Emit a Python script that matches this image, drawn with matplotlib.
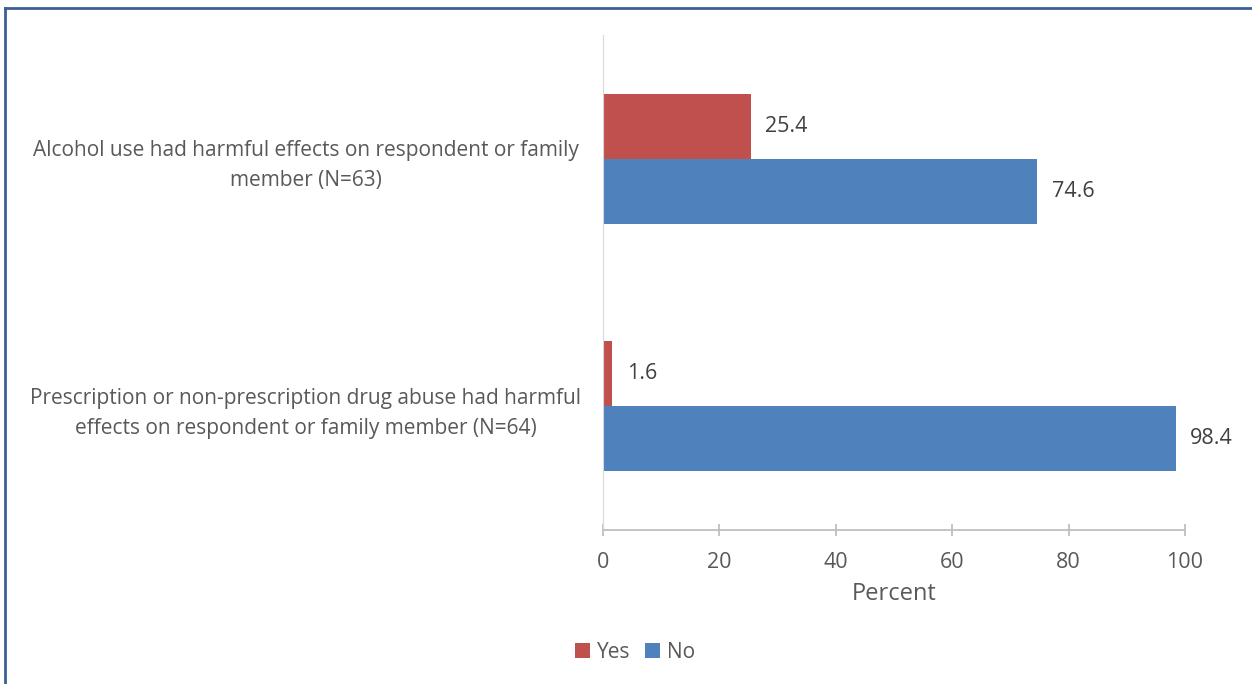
import matplotlib.pyplot as plt
import numpy as np
from matplotlib.lines import Line2D

categories = ["Alcohol use had harmful effects on respondent or family\nmember (N=63)",
              "Prescription or non-prescription drug abuse had harmful\neffects on respondent or family member (N=64)"]
yes_vals = [25.4, 1.6]
no_vals = [74.6, 98.4]

red = '#c0504d'
blue = '#4f81bd'
grey = '#595959'
plt.rcParams['font.family'] = ['Open Sans', 'DejaVu Sans']

fig = plt.figure(figsize=(12.52, 6.84), dpi=100)
ax = fig.add_axes([0.4816, 0.2251, 0.4649, 0.7237])

y = np.arange(len(categories))
h = 0.2627
ax.barh(y - h / 2, yes_vals, height=h, color=red, label='Yes')
ax.barh(y + h / 2, no_vals, height=h, color=blue, label='No')

for i in range(len(categories)):
    ax.text(yes_vals[i] + 2.5, y[i] - h / 2, f"{yes_vals[i]:.1f}", va='center', ha='left', fontsize=15.5, color='#404040')
    ax.text(no_vals[i] + 2.5, y[i] + h / 2, f"{no_vals[i]:.1f}", va='center', ha='left', fontsize=15.5, color='#404040')

ax.set_ylim(1.5, -0.5)
ax.set_xlim(0, 100)
ax.set_yticks(y)
ax.set_yticklabels(categories, fontsize=15, color=grey, ha='center', linespacing=1.55)
ax.tick_params(axis='y', length=0, pad=214)
ax.set_xticks(range(0, 101, 20))
ax.tick_params(axis='x', colors='#bfbfbf', labelcolor=grey, labelsize=15.5, length=8, width=1.3, direction='inout', pad=12)
for s in ['top', 'right']:
    ax.spines[s].set_visible(False)
ax.spines['left'].set_color('#d9d9d9')
ax.spines['bottom'].set_color('#bfbfbf')
ax.spines['bottom'].set_linewidth(1.3)
ax.set_xlabel('Percent', fontsize=17, color=grey, labelpad=6)

fig.legend(loc='center', bbox_to_anchor=(635 / 1252, 1 - 652 / 684), ncol=2, frameon=False,
           fontsize=15, handlelength=0.7, handleheight=0.7, handletextpad=0.35, columnspacing=0.7,
           labelcolor=grey)

# outer frame (left and top only visible)
fig.add_artist(Line2D([5 / 1252, 5 / 1252], [0, 1 - 8 / 684], color='#3a5f95', lw=2, transform=fig.transFigure))
fig.add_artist(Line2D([5 / 1252, 1], [1 - 8 / 684, 1 - 8 / 684], color='#3a5f95', lw=2, transform=fig.transFigure))

fig.savefig('out.png', dpi=100)
